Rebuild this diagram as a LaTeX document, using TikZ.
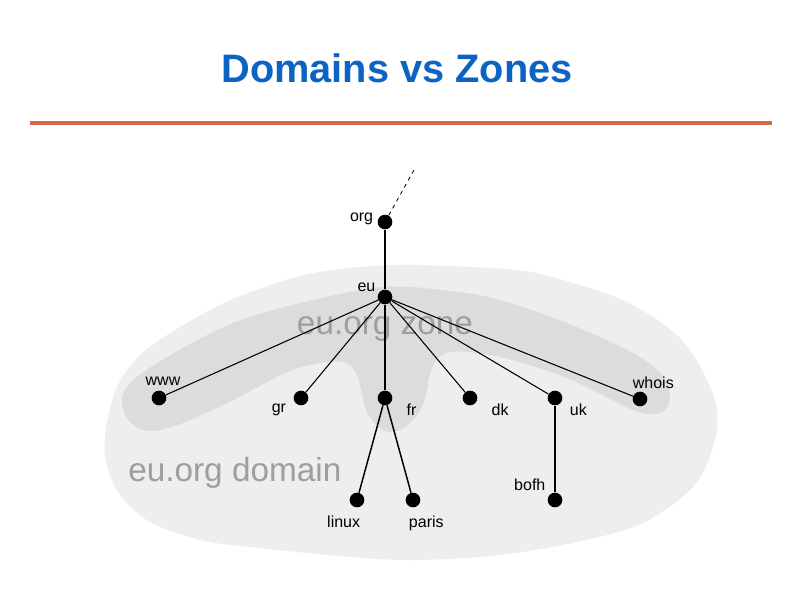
\documentclass[tikz,border=0pt]{standalone}
\usepackage{fontspec}
\setmainfont{Liberation Sans}
\usetikzlibrary{positioning}
\definecolor{titleBlue}{HTML}{0B63C4}
\definecolor{ruleOrange}{HTML}{D2694B}
\definecolor{domainFill}{HTML}{EEEEEE}
\definecolor{zoneFill}{HTML}{DCDCDC}
\definecolor{areaText}{HTML}{9E9E9E}

\begin{document}
\begin{tikzpicture}[
  x=0.75pt, y=-0.75pt,
  vertex/.style={circle, fill=black, minimum size=11pt, inner sep=0pt},
  tag/.style={font=\fontsize{12}{14}\selectfont, inner sep=0pt},
  area/.style={font=\fontsize{25}{30}\selectfont, text=areaText, inner sep=0pt},
  link/.style={line width=0.8pt},
]
\useasboundingbox (0,0) rectangle (794,595);

% title and rule
\node[font=\fontsize{29.8}{34}\selectfont\bfseries, text=titleBlue, anchor=base] (title) at (397,83) {Domains vs Zones};
\draw[ruleOrange, line width=2.5pt] (30,123) -- (772,123);

% domain and zone areas
\fill[domainFill] plot[smooth cycle, tension=0.55] coordinates {
  (106,428) (117,387) (140,355) (180,327) (233,299) (300,276) (360,267)
  (417,265) (517,270) (570,282) (627,302) (677,335) (703,372) (717,410)
  (713,447) (693,487) (643,523) (577,542) (500,555) (417,560) (350,557)
  (250,547) (200,540) (150,522) (120,495) (106,462)};
\fill[zoneFill] plot[smooth cycle, tension=0.55] coordinates {
  (122,403) (130,383) (167,357) (233,323) (300,303) (383,287) (450,291)
  (500,300) (567,323) (633,353) (662,375) (670,398) (660,413) (633,410)
  (567,378) (500,357) (450,352) (432,368) (423,405) (405,427) (385,431)
  (367,412) (357,375) (343,362) (310,365) (283,374) (233,400) (183,423)
  (150,431) (130,422)};
\node[area, anchor=base] (zonelbl) at (385,335) {eu.org zone};
\node[area, anchor=base west] (domlbl) at (128,482) {eu.org domain};

% tree
\node[vertex] (org) at (385,222) {};
\node[vertex] (eu) at (385,297) {};
\node[vertex] (www) at (159,398) {};
\node[vertex] (gr) at (301,398) {};
\node[vertex] (fr) at (385,398) {};
\node[vertex] (dk) at (470,398) {};
\node[vertex] (uk) at (555,398) {};
\node[vertex] (whois) at (640,399) {};
\node[vertex] (linux) at (357,500) {};
\node[vertex] (paris) at (413,500) {};
\node[vertex] (bofh) at (555,500) {};
\coordinate (root) at (414,170);

\node[tag, left=3pt of org, yshift=2pt] {org};
\node[tag, above left=0pt and 3pt of eu] {eu};
\node[tag, above=3.5pt of www, xshift=3pt] {www};
\node[tag, below left=0pt and 7pt of gr] {gr};
\node[tag, below right=0pt and 12pt of fr] {fr};
\node[tag, below right=0pt and 12pt of dk] {dk};
\node[tag, below right=0pt and 7pt of uk] {uk};
\node[tag, above=2pt of whois, xshift=10pt] {whois};
\node[tag, below=6pt of linux, xshift=-10pt] {linux};
\node[tag, below=6pt of paris, xshift=10pt] {paris};
\node[tag, above left=3pt and 3pt of bofh] {bofh};

\draw[line width=0.6pt, dash pattern=on 3pt off 3pt] (org) -- (root);
\draw[link] (org) -- (eu);
\draw[link] (eu) -- (www);
\draw[link] (eu) -- (gr);
\draw[link, line width=1.1pt] (eu) -- (fr);
\draw[link] (eu) -- (dk);
\draw[link] (eu) -- (uk);
\draw[link] (eu) -- (whois);
\draw[link, line width=1.1pt] (fr) -- (linux);
\draw[link, line width=1.1pt] (fr) -- (paris);
\draw[link, line width=1.6pt] (uk) -- (bofh);
\end{tikzpicture}
\end{document}
